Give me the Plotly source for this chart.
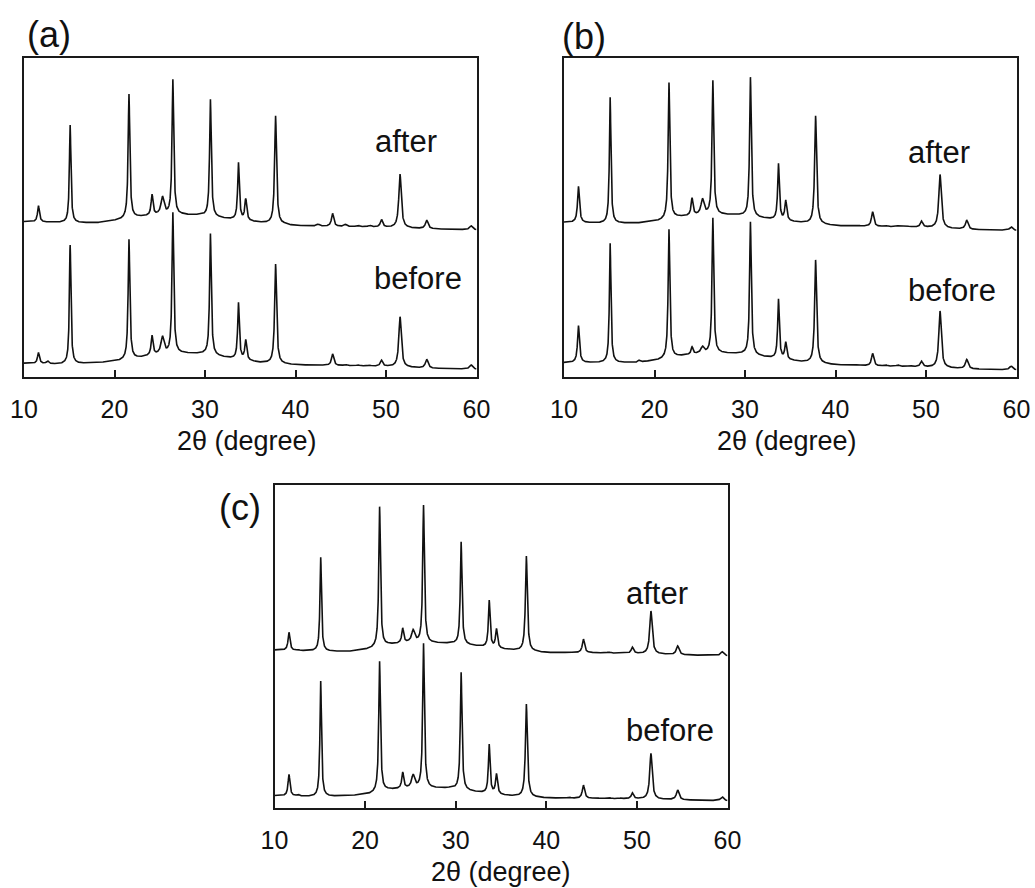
import numpy as np
import plotly.graph_objects as go

W, H = 1035, 888
FONT = "Liberation Sans, Arial, sans-serif"

# Reflection positions (2θ, degree) and their widths (FWHM, degree)
peak_pos = [11.6, 12.6, 15.1, 18.3, 21.6, 24.15, 25.3, 26.45, 28.6, 29.3, 30.6, 33.7, 34.5,
            35.4, 37.8, 38.8, 42.5, 44.1, 45.5, 46.9, 48.2, 49.5, 51.55, 54.5, 59.4]
peak_fwhm = [0.25, 0.3, 0.2, 0.3, 0.22, 0.25, 0.4, 0.22, 0.4, 0.4, 0.22, 0.22, 0.25,
             0.4, 0.25, 0.4, 0.4, 0.3, 0.4, 0.4, 0.4, 0.3, 0.32, 0.35, 0.4]

# Background anchor positions (2θ)
base_pos = [10, 14, 18, 20.5, 22.5, 24.8, 27.5, 29.8, 32, 36, 40, 45, 50, 55, 60]

# (a) intensities (a.u., stacked)
a_after_base = [48.7, 48.4, 48.3, 49.2, 50.1, 50.6, 50.8, 50.5, 49.7, 48.4, 47.4, 47.1, 46.9, 46.4, 46.1]
a_after_top = [53.7, 48.5, 79.0, 48.3, 88.7, 57.3, 56.7, 93.3, 51.1, 51.1, 87.1, 67.3, 56.0,
               48.9, 81.9, 48.4, 47.9, 51.3, 47.9, 47.6, 47.6, 49.4, 63.6, 49.2, 47.4]
a_before_base = [4.3, 4.0, 4.4, 5.0, 5.9, 6.9, 7.4, 7.2, 6.2, 4.5, 3.8, 3.5, 3.3, 2.7, 2.4]
a_before_top = [7.7, 5.1, 41.4, 4.4, 43.2, 13.1, 12.9, 51.6, 7.4, 7.2, 45.0, 23.4, 11.8,
                5.0, 35.4, 4.3, 4.0, 7.2, 4.0, 3.8, 3.7, 5.3, 18.9, 5.6, 3.8]

# (b)
b_after_base = [48.5, 48.2, 48.2, 48.9, 50.1, 50.6, 50.8, 50.5, 49.7, 48.4, 47.4, 47.1, 46.9, 46.2, 45.9]
b_after_top = [59.8, 48.5, 87.7, 48.2, 92.3, 56.2, 56.0, 93.0, 51.1, 51.1, 94.0, 67.0, 55.5,
               48.7, 81.9, 48.3, 47.6, 51.8, 47.6, 47.4, 47.3, 48.9, 63.5, 49.2, 47.1]
b_before_base = [4.5, 4.5, 4.5, 5.3, 6.4, 7.2, 7.4, 7.2, 6.3, 4.8, 3.8, 3.4, 3.1, 2.5, 2.2]
b_before_top = [16.1, 4.8, 41.9, 5.3, 46.3, 9.5, 9.7, 49.9, 7.7, 7.7, 48.7, 24.5, 11.1,
                5.3, 36.7, 4.4, 3.9, 7.4, 3.9, 3.8, 3.6, 5.0, 20.7, 5.5, 3.4]

# (c)
c_after_base = [48.9, 48.6, 48.4, 49.2, 50.5, 51.1, 51.0, 50.8, 50.2, 48.9, 48.1, 48.0, 47.8, 47.4, 47.1]
c_after_top = [54.4, 49.1, 77.6, 48.4, 93.3, 55.8, 55.3, 93.8, 51.3, 51.3, 82.4, 64.4, 55.6,
               49.1, 78.0, 48.9, 48.4, 52.3, 48.3, 48.3, 48.1, 49.8, 61.0, 50.2, 48.4]
c_before_base = [3.8, 3.5, 3.7, 4.3, 5.6, 6.0, 6.1, 5.9, 5.0, 3.7, 3.1, 2.9, 2.8, 2.5, 2.2]
c_before_top = [10.4, 4.3, 39.3, 3.7, 45.4, 11.2, 10.5, 51.0, 6.5, 6.5, 42.0, 19.8, 10.7,
                4.0, 32.2, 3.7, 3.4, 7.1, 3.3, 3.3, 3.1, 4.7, 16.9, 5.6, 3.5]

x_ticks = [10, 20, 30, 40, 50, 60]
x_title = "2θ (degree)"


def lorentz(x, x0, fwhm):
    g = fwhm / 2.0
    return g * g / ((x - x0) ** 2 + g * g)


def pattern(base_vals, top_vals):
    """Diffraction profile: background plus Lorentzian reflections whose
    maxima sit at the listed peak intensities."""
    pos = np.asarray(peak_pos)
    fw = np.asarray(peak_fwhm)
    tth = np.round(np.arange(10.0, 60.0001, 0.01), 2)
    tth = np.unique(np.concatenate([tth, pos]))
    bg = np.interp(tth, base_pos, base_vals)
    bg_at_peaks = np.interp(pos, base_pos, base_vals)
    A = lorentz(pos[:, None], pos[None, :], fw[None, :])
    h = np.linalg.solve(A, np.asarray(top_vals) - bg_at_peaks)
    h = np.clip(h, 0, None)
    y = bg + (lorentz(tth[:, None], pos[None, :], fw[None, :]) * h[None, :]).sum(axis=1)
    return tth, y


panels = [
    ("a", a_after_base, a_after_top, a_before_base, a_before_top),
    ("b", b_after_base, b_after_top, b_before_base, b_before_top),
    ("c", c_after_base, c_after_top, c_before_base, c_before_top),
]

# panel boxes in pixels: left, right, top, bottom
boxes = {
    "a": (24, 476.5, 58, 377),
    "b": (564, 1016.5, 58, 377),
    "c": (274.5, 727.5, 485, 808),
}

fig = go.Figure()
layout = dict(
    template="none",
    width=W, height=H, margin=dict(l=0, r=0, t=0, b=0, pad=0, autoexpand=False),
    paper_bgcolor="white", plot_bgcolor="white", showlegend=False,
    font=dict(family=FONT, color="#111"),
)

axis_line = dict(showline=True, mirror=True, linecolor="#1a1a1a", linewidth=2,
                 showgrid=False, zeroline=False, automargin=False)

annotations = []
for i, (name, ab, at, bb, bt) in enumerate(panels):
    idx = "" if i == 0 else str(i + 1)
    l, r, t, b = boxes[name]
    for base_vals, top_vals in ((bb, bt), (ab, at)):
        xx, yy = pattern(base_vals, top_vals)
        fig.add_trace(go.Scatter(x=xx, y=yy, mode="lines",
                                 line=dict(color="#111", width=1.6),
                                 xaxis="x" + idx, yaxis="y" + idx,
                                 hoverinfo="skip"))
    layout["xaxis" + idx] = dict(
        domain=[l / W, r / W], anchor="y" + idx, range=[10, 60],
        tickvals=x_ticks, ticktext=[str(v) for v in x_ticks],
        ticks="inside", ticklen=7, tickwidth=2, tickcolor="#1a1a1a",
        tickfont=dict(family=FONT, size=25, color="#111"),
        ticklabelstandoff=9, **axis_line)
    layout["yaxis" + idx] = dict(
        domain=[1 - b / H, 1 - t / H], anchor="x" + idx, range=[0, 100],
        showticklabels=False, ticks="", **axis_line)

# text labels: (text, x px, y px, size)
labels = [
    ("(a)", 49, 35, 36), ("(b)", 584, 37, 36), ("(c)", 240, 507, 36),
    ("after", 405.5, 141, 31), ("before", 418, 278, 31),
    ("after", 939, 153, 31), ("before", 952, 291, 31),
    ("after", 657, 593, 31), ("before", 670, 730, 31),
    (x_title, 247, 441, 27), (x_title, 787, 441, 27), (x_title, 501, 872, 27),
]
for text, px, py, size in labels:
    annotations.append(dict(text=text, x=px / W, y=1 - py / H, xref="paper", yref="paper",
                            xanchor="center", yanchor="middle", showarrow=False,
                            font=dict(family=FONT, size=size, color="#111")))

layout["annotations"] = annotations
fig.update_layout(**layout)
fig.write_html("out.html")
